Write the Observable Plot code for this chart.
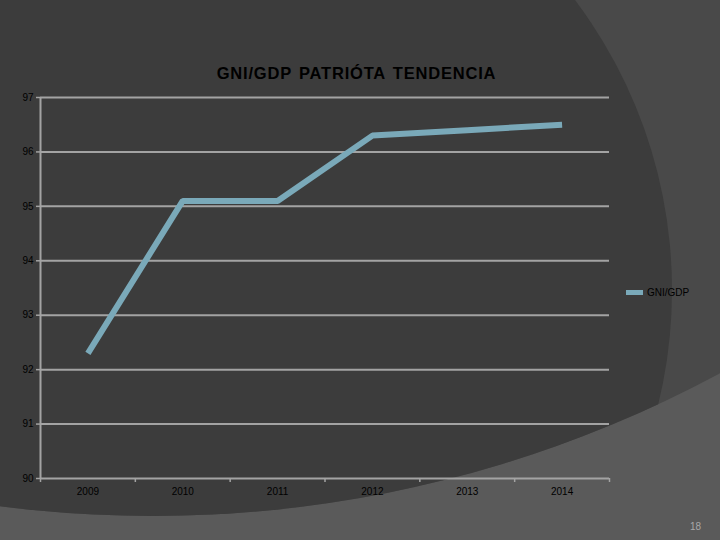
<!DOCTYPE html>
<html>
<head>
<meta charset="utf-8">
<script src="https://cdn.jsdelivr.net/npm/d3@7"></script>
<script src="https://cdn.jsdelivr.net/npm/@observablehq/plot@0.6"></script>
<style>
  html, body { margin: 0; padding: 0; background: #5a5a5a; }
  #slide { position: relative; width: 720px; height: 540px; overflow: hidden; background: #5a5a5a; font-family: "Liberation Sans", Arial, sans-serif; }
  #big { position: absolute; left: -1045px; top: -1880px; width: 2396px; height: 2396px; border-radius: 50%; background: #494949; overflow: hidden; }
  #dark { position: absolute; left: 753px; top: 1688px; width: 964px; height: 964px; border-radius: 50%; background: #3c3c3c; }
  #title { position: absolute; left: 0; top: 65px; width: 713px; text-align: center; font-weight: bold; font-size: 16.5px; letter-spacing: 0.8px; word-spacing: 2px; line-height: 16px; color: #000; }
  #chart { position: absolute; left: 0; top: 88px; }
  #legend { position: absolute; left: 626px; top: 287px; display: flex; align-items: center; font-size: 10px; color: #000; }
  #legend .sw { width: 17px; height: 5px; background: #7aa9b9; margin-right: 4px; }
  #page { position: absolute; left: 690px; top: 521px; font-size: 10px; color: #a8a8a8; }
</style>
</head>
<body>
<div id="slide">
  <div id="big"><div id="dark"></div></div>
  <div id="title">GNI/GDP PATRIÓTA TENDENCIA</div>
  <div id="chart"></div>
  <div id="legend"><div class="sw"></div><span>GNI/GDP</span></div>
  <div id="page">18</div>
</div>
<script>
const years = [2009, 2010, 2011, 2012, 2013, 2014];
const gniGdp = [92.3, 95.1, 95.1, 96.3, 96.4, 96.5];
const yTicks = [90, 91, 92, 93, 94, 95, 96, 97];
const xBoundaries = [2008.5, 2009.5, 2010.5, 2011.5, 2012.5, 2013.5, 2014.5];

const data = years.map((year, i) => ({year, value: gniGdp[i]}));
const gridColor = "#a3a3a3";

const chart = Plot.plot({
  width: 720,
  height: 452,
  marginLeft: 40,
  marginRight: 111,
  marginTop: 9,
  marginBottom: 62,
  style: {background: "transparent", color: "#000", fontFamily: "'Liberation Sans', Arial, sans-serif", fontSize: "10px", overflow: "visible"},
  x: {type: "linear", domain: [xBoundaries[0], xBoundaries[xBoundaries.length - 1]]},
  y: {domain: [yTicks[0], yTicks[yTicks.length - 1]]},
  marks: [
    Plot.ruleY(yTicks, {stroke: gridColor, strokeWidth: 2, strokeOpacity: 1}),
    Plot.ruleX([xBoundaries[0]], {stroke: gridColor, strokeWidth: 2, strokeOpacity: 1}),
    Plot.axisY(yTicks, {tickSize: 4, tickPadding: 3, stroke: gridColor, strokeWidth: 1.5, strokeOpacity: 1, label: null, tickFormat: d => String(d)}),
    Plot.axisX(xBoundaries, {tickSize: 4, tickPadding: 0, stroke: gridColor, strokeWidth: 1.5, strokeOpacity: 1, tickFormat: () => "", label: null}),
    Plot.axisX(years, {tickSize: 0, tickPadding: 9, label: null, tickFormat: d => String(d)}),
    Plot.line(data, {x: "year", y: "value", stroke: "#7aa9b9", strokeWidth: 6, strokeLinecap: "butt", strokeLinejoin: "miter"})
  ]
});
document.getElementById("chart").appendChild(chart);
</script>
</body>
</html>
